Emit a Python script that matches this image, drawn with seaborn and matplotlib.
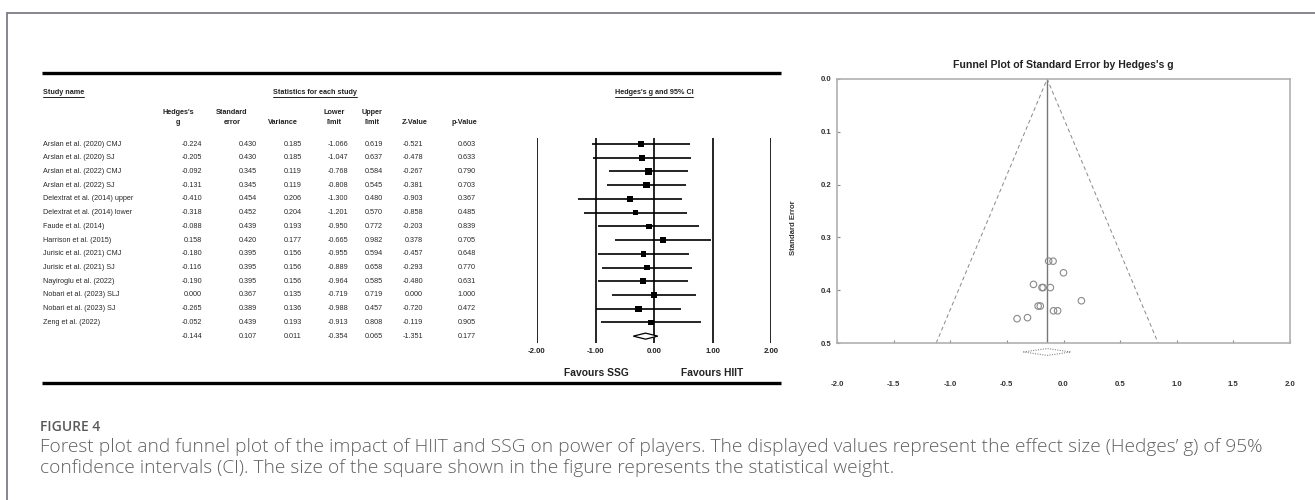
import numpy as np
import pandas as pd
import matplotlib
matplotlib.use("Agg")
import matplotlib.pyplot as plt
import seaborn as sns
from matplotlib import font_manager
from matplotlib.transforms import blended_transform_factory

# ---------------- data ----------------
studies = ["Arslan et al. (2020) CMJ", "Arslan et al. (2020) SJ", "Arslan et al. (2022) CMJ",
           "Arslan et al. (2022) SJ", "Delextrat et al. (2014) upper", "Delextrat et al. (2014) lower",
           "Faude et al. (2014)", "Harrison et al. (2015)", "Jurisic et al. (2021) CMJ",
           "Jurisic et al. (2021) SJ", "Nayiroglu et al. (2022)", "Nobari et al. (2023) SLJ",
           "Nobari et al. (2023) SJ", "Zeng et al. (2022)"]
hedges_g = [-0.224, -0.205, -0.092, -0.131, -0.410, -0.318, -0.088, 0.158, -0.180, -0.116, -0.190, 0.000, -0.265, -0.052]
std_err = [0.430, 0.430, 0.345, 0.345, 0.454, 0.452, 0.439, 0.420, 0.395, 0.395, 0.395, 0.367, 0.389, 0.439]
variance = [0.185, 0.185, 0.119, 0.119, 0.206, 0.204, 0.193, 0.177, 0.156, 0.156, 0.156, 0.135, 0.136, 0.193]
lower_limit = [-1.066, -1.047, -0.768, -0.808, -1.300, -1.201, -0.950, -0.665, -0.955, -0.889, -0.964, -0.719, -0.988, -0.913]
upper_limit = [0.619, 0.637, 0.584, 0.545, 0.480, 0.570, 0.772, 0.982, 0.594, 0.658, 0.585, 0.719, 0.457, 0.808]
z_value = [-0.521, -0.478, -0.267, -0.381, -0.903, -0.858, -0.203, 0.378, -0.457, -0.293, -0.480, 0.000, -0.720, -0.119]
p_value = [0.603, 0.633, 0.790, 0.703, 0.367, 0.485, 0.839, 0.705, 0.648, 0.770, 0.631, 1.000, 0.472, 0.905]
summary = {"g": -0.144, "se": 0.107, "var": 0.011, "lo": -0.354, "hi": 0.065, "z": -1.351, "p": 0.177}

forest_ticks = [-2.0, -1.0, 0.0, 1.0, 2.0]
funnel_xticks = [-2.0, -1.5, -1.0, -0.5, 0.0, 0.5, 1.0, 1.5, 2.0]
funnel_yticks = [0.0, 0.1, 0.2, 0.3, 0.4, 0.5]

caption_head = "FIGURE 4"
caption_lines = ["Forest plot and funnel plot of the impact of HIIT and SSG on power of players. The displayed values represent the effect size (Hedges\u2019 g) of 95%",
                 "confidence intervals (CI). The size of the square shown in the figure represents the statistical weight."]

df = pd.DataFrame({"study": studies, "g": hedges_g, "se": std_err, "var": variance,
                   "lo": lower_limit, "hi": upper_limit, "z": z_value, "p": p_value})
df["row"] = np.arange(len(df))
df["weight"] = 1.0 / df["var"]

# ---------------- style ----------------
sns.set_theme(style="white")
avail = {f.name for f in font_manager.fontManager.ttflist}
if "Liberation Sans Narrow" in avail:
    NARROW, K = "Liberation Sans Narrow", 1.18
else:
    NARROW, K = "Liberation Sans", 1.0
plt.rcParams["font.family"] = [NARROW, "DejaVu Sans"]
CAPF = ["Open Sans", "DejaVu Sans"]

W, H = 1315, 500
fig = plt.figure(figsize=(W / 100, H / 100), dpi=100)

# background layout axes in pixel units
bg = fig.add_axes([0, 0, 1, 1])
bg.set_xlim(0, W)
bg.set_ylim(H, 0)
bg.axis("off")

# figure frame
frame_c = "#7c7c8c"
bg.plot([7, W], [13, 13], color=frame_c, lw=1.3)
bg.plot([7, 7], [13, H], color=frame_c, lw=1.3)

# ---------------- forest axes ----------------
def fig_rect(x0, x1, y0, y1):
    return [x0 / W, (H - y1) / H, (x1 - x0) / W, (y1 - y0) / H]

fax = fig.add_axes(fig_rect(537, 771, 138, 343))
fax.set_xlim(-2, 2)
fax.set_ylim(14.5, -0.44)
for s in fax.spines.values():
    s.set_visible(False)
fax.patch.set_alpha(0)
for t in forest_ticks:
    fax.axvline(t, color="black", lw=1.2, zorder=1)
fax.hlines(df["row"], df["lo"], df["hi"], color="black", lw=1.2, zorder=2)
sns.scatterplot(data=df, x="g", y="row", size="weight", sizes=(15, 22), marker="s",
                color="black", edgecolor="black", linewidth=0, legend=False, ax=fax, zorder=3)
srow = len(df)
dh = 0.22
fax.fill([summary["lo"], summary["g"], summary["hi"], summary["g"]],
         [srow, srow - dh, srow, srow + dh], facecolor="white", edgecolor="black", lw=0.9, zorder=4)
fax.set_xticks(forest_ticks)
fax.set_xticklabels([f"{t:.2f}" for t in forest_ticks], fontsize=5.6 * K, fontweight="bold", color="#222")
fax.set_yticks([])
fax.tick_params(axis="x", length=0, pad=3.4)
fax.set_xlabel("")
fax.set_ylabel("")

# Favours labels
bg.text(596, 373, "Favours SSG", ha="center", va="center", fontsize=7.4, fontweight="bold",
        family=["Liberation Sans", "DejaVu Sans"], color="#222")
bg.text(712, 373, "Favours HIIT", ha="center", va="center", fontsize=7.4, fontweight="bold",
        family=["Liberation Sans", "DejaVu Sans"], color="#222")

# ---------------- table ----------------
tr = blended_transform_factory(bg.transData, fax.transData)
fs = 5.2 * K
txt_c = "#2a2a2a"
cols = [("g", 202), ("se", 257), ("var", 302), ("lo", 348), ("hi", 383), ("z", 423), ("p", 476)]
for _, r in df.iterrows():
    bg.text(43, r["row"], r["study"], transform=tr, ha="left", va="center", fontsize=fs, color=txt_c)
    for key, xr in cols:
        bg.text(xr, r["row"], f"{r[key]:.3f}", transform=tr, ha="right", va="center", fontsize=fs, color=txt_c)
for key, xr in cols:
    bg.text(xr, srow, f"{summary[key]:.3f}", transform=tr, ha="right", va="center", fontsize=fs, color=txt_c)

hf = 5.2 * K
headers = [(178, "Hedges's", "g"), (232, "Standard", "error"), (283, "", "Variance"),
           (334, "Lower", "limit"), (372, "Upper", "limit"), (415, "", "Z-Value"), (464, "", "p-Value")]
for xc, l1, l2 in headers:
    if l1:
        bg.text(xc, 113, l1, ha="center", va="center", fontsize=hf, fontweight="bold", color="#222")
    bg.text(xc, 123, l2, ha="center", va="center", fontsize=hf, fontweight="bold", color="#222")

under = []
under.append(bg.text(43, 93, "Study name", ha="left", va="center", fontsize=hf, fontweight="bold", color="#222"))
under.append(bg.text(315, 93, "Statistics for each study", ha="center", va="center", fontsize=hf, fontweight="bold", color="#222"))
under.append(bg.text(654, 93, "Hedges's g and 95% CI", ha="center", va="center", fontsize=hf, fontweight="bold", color="#222"))

# thick rules
bg.plot([42, 781], [73, 73], color="black", lw=2.4, solid_capstyle="butt")
bg.plot([42, 781], [383, 383], color="black", lw=2.4, solid_capstyle="butt")

# ---------------- funnel axes ----------------
uax = fig.add_axes(fig_rect(837, 1290, 79, 343))
uax.set_xlim(-2, 2)
uax.set_ylim(0.5, 0.0)
for s in uax.spines.values():
    s.set_color("#b0b0b0")
    s.set_linewidth(1.2)
g0 = summary["g"]
se_max = 0.5
uax.plot([g0, g0], [0, se_max], color="#777", lw=1.0, zorder=1)
uax.plot([g0 - 1.96 * se_max, g0, g0 + 1.96 * se_max], [se_max, 0, se_max],
         color="#888", lw=0.7, ls=(0, (4, 3)), zorder=1)
sns.scatterplot(data=df, x="g", y="se", marker="o", s=22, facecolor="none",
                edgecolor="#8a8a8a", linewidth=0.8, legend=False, ax=uax, zorder=3)
ddy = 0.0065
yb = 0.517
uax.plot([summary["lo"], g0, summary["hi"], g0, summary["lo"]],
         [yb, yb - ddy, yb, yb + ddy, yb], color="#888", lw=0.8, ls=(0, (1, 1.2)), clip_on=False)
uax.set_xticks(funnel_xticks)
uax.set_xticklabels([f"{t:.1f}" for t in funnel_xticks], fontsize=5.6 * K, fontweight="bold", color="#333")
uax.set_yticks(funnel_yticks)
uax.set_yticklabels([f"{t:.1f}" for t in funnel_yticks], fontsize=5.6 * K, fontweight="bold", color="#333")
uax.tick_params(axis="x", direction="in", length=2.2, width=0.8, color="#888", pad=27, bottom=True)
uax.tick_params(axis="y", direction="in", length=2.2, width=0.8, color="#888", pad=4, left=True)
uax.set_xlabel("")
uax.set_ylabel("Standard Error", fontsize=5.6 * K, fontweight="bold", color="#333")
uax.yaxis.set_label_coords(-0.088, 0.436)
uax.set_title("Funnel Plot of Standard Error by Hedges's g", fontsize=7.6 * K, fontweight="bold",
              color="#222", pad=8.0)

# ---------------- caption ----------------
bg.text(40, 427, caption_head, ha="left", va="center", fontsize=10, fontweight="semibold",
        family=CAPF, color="#5a5a5a")
bg.text(40, 447, caption_lines[0], ha="left", va="center", fontsize=13.8, family=CAPF,
        fontweight="light", color="#606060")
bg.text(40, 468, caption_lines[1], ha="left", va="center", fontsize=13.8, family=CAPF,
        fontweight="light", color="#606060")

# underlines for header labels
fig.canvas.draw()
rend = fig.canvas.get_renderer()
inv = bg.transData.inverted()
for t in under:
    bb = t.get_window_extent(rend)
    (x0, y0), (x1, y1) = inv.transform([[bb.x0, bb.y0], [bb.x1, bb.y1]])
    bg.plot([x0, x1], [y0 + 0.5, y0 + 0.5], color="#222", lw=0.7)

fig.savefig("out.png", dpi=100)
